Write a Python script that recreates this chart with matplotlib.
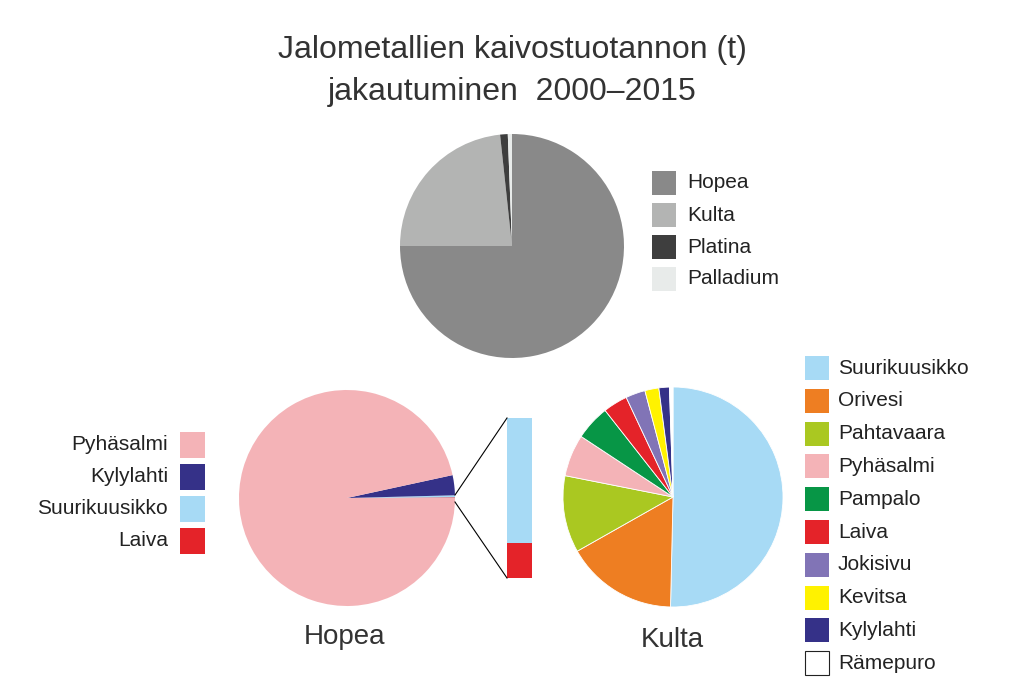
import matplotlib
matplotlib.use("Agg")
import matplotlib.pyplot as plt
from matplotlib.patches import Rectangle
from matplotlib.lines import Line2D

metals = ["Hopea", "Kulta", "Platina", "Palladium"]
metal_vals = [75.0, 23.3, 1.1, 0.6]
metal_cols = ["#898989", "#b3b4b3", "#3e3e3e", "#e8ebea"]

silver = ["Pyhäsalmi", "Kylylahti", "Suurikuusikko", "Laiva"]
silver_vals = [96.6, 3.0, 0.3, 0.1]
silver_cols = ["#f4b3b7", "#353188", "#a7daf5", "#e42329"]
bar_vals = [78, 22]  # Suurikuusikko, Laiva share of remainder

gold = ["Suurikuusikko", "Orivesi", "Pahtavaara", "Pyhäsalmi", "Pampalo",
        "Laiva", "Jokisivu", "Kevitsa", "Kylylahti", "Rämepuro"]
gold_vals = [49.0, 16.0, 11.0, 6.0, 5.0, 3.5, 2.8, 2.0, 1.5, 0.5]
gold_cols = ["#a7daf5", "#ee7e22", "#aac821", "#f4b3b7", "#079646",
             "#e42329", "#8174b6", "#fff200", "#353188", "#ffffff"]

W, H = 1024, 695
fig = plt.figure(figsize=(W/100, H/100), dpi=100)
plt.rcParams['font.family'] = ['Liberation Sans', 'DejaVu Sans']
LF = 15

def ax_at(cx, cy, r):
    return fig.add_axes([(cx-r)/W, 1-(cy+r)/H, 2*r/W, 2*r/H])

fig.text(512/W, 1-50/H, "Jalometallien kaivostuotannon (t)", ha="center", va="center", fontsize=23, color="#333")
fig.text(512/W, 1-92/H, "jakautuminen  2000–2015", ha="center", va="center", fontsize=23, color="#333")

a = ax_at(512, 246, 112)
a.pie(metal_vals, colors=metal_cols, startangle=90, counterclock=False, radius=1)
a.set_xlim(-1, 1); a.set_ylim(-1, 1)
for i, (n, c) in enumerate(zip(metals, metal_cols)):
    y = 183 + i*32
    fig.patches.append(Rectangle((652/W, 1-(y+12)/H), 24/W, 24/H, transform=fig.transFigure, facecolor=c, edgecolor="none"))
    fig.text(687/W, 1-y/H, n, va="center", fontsize=LF, color="#222")

b = ax_at(347, 498, 108)
b.pie(silver_vals[::-1], colors=silver_cols[::-1], startangle=0, counterclock=True, radius=1,
      wedgeprops=dict(linewidth=0))
b.set_xlim(-1, 1); b.set_ylim(-1, 1)
fig.text(345/W, 1-637/H, "Hopea", ha="center", va="center", fontsize=20, color="#333")
for i, (n, c) in enumerate(zip(silver, silver_cols)):
    y = 445 + i*32
    fig.patches.append(Rectangle((180/W, 1-(y+13)/H), 25/W, 26/H, transform=fig.transFigure, facecolor=c, edgecolor="none"))
    fig.text(168/W, 1-y/H, n, va="center", ha="right", fontsize=LF, color="#222")

bx0, bx1, by0, by1 = 507, 532, 418, 578
bh = by1 - by0
top = by0
for v, c in zip(bar_vals, [silver_cols[2], silver_cols[3]]):
    h = bh*v/100
    fig.patches.append(Rectangle((bx0/W, 1-(top+h)/H), (bx1-bx0)/W, h/H, transform=fig.transFigure, facecolor=c, edgecolor="none"))
    top += h
fig.lines.append(Line2D([455/W, bx0/W], [1-495/H, 1-by0/H], transform=fig.transFigure, color="k", lw=0.8))
fig.lines.append(Line2D([455/W, bx0/W], [1-502/H, 1-by1/H], transform=fig.transFigure, color="k", lw=0.8))

c = ax_at(673, 497, 110)
c.pie(gold_vals, colors=gold_cols, startangle=90, counterclock=False, radius=1,
      wedgeprops=dict(linewidth=0.6, edgecolor="white"))
c.set_xlim(-1, 1); c.set_ylim(-1, 1)
fig.text(672/W, 1-640/H, "Kulta", ha="center", va="center", fontsize=20, color="#333")
for i, (n, col) in enumerate(zip(gold, gold_cols)):
    y = 368 + i*32.8
    fig.patches.append(Rectangle((805/W, 1-(y+12)/H), 24/W, 24/H, transform=fig.transFigure,
                                 facecolor=col, edgecolor="#222" if col == "#ffffff" else "none", lw=0.8))
    fig.text(838/W, 1-y/H, n, va="center", fontsize=LF, color="#222")

fig.savefig("out.png", dpi=100, facecolor="white")
